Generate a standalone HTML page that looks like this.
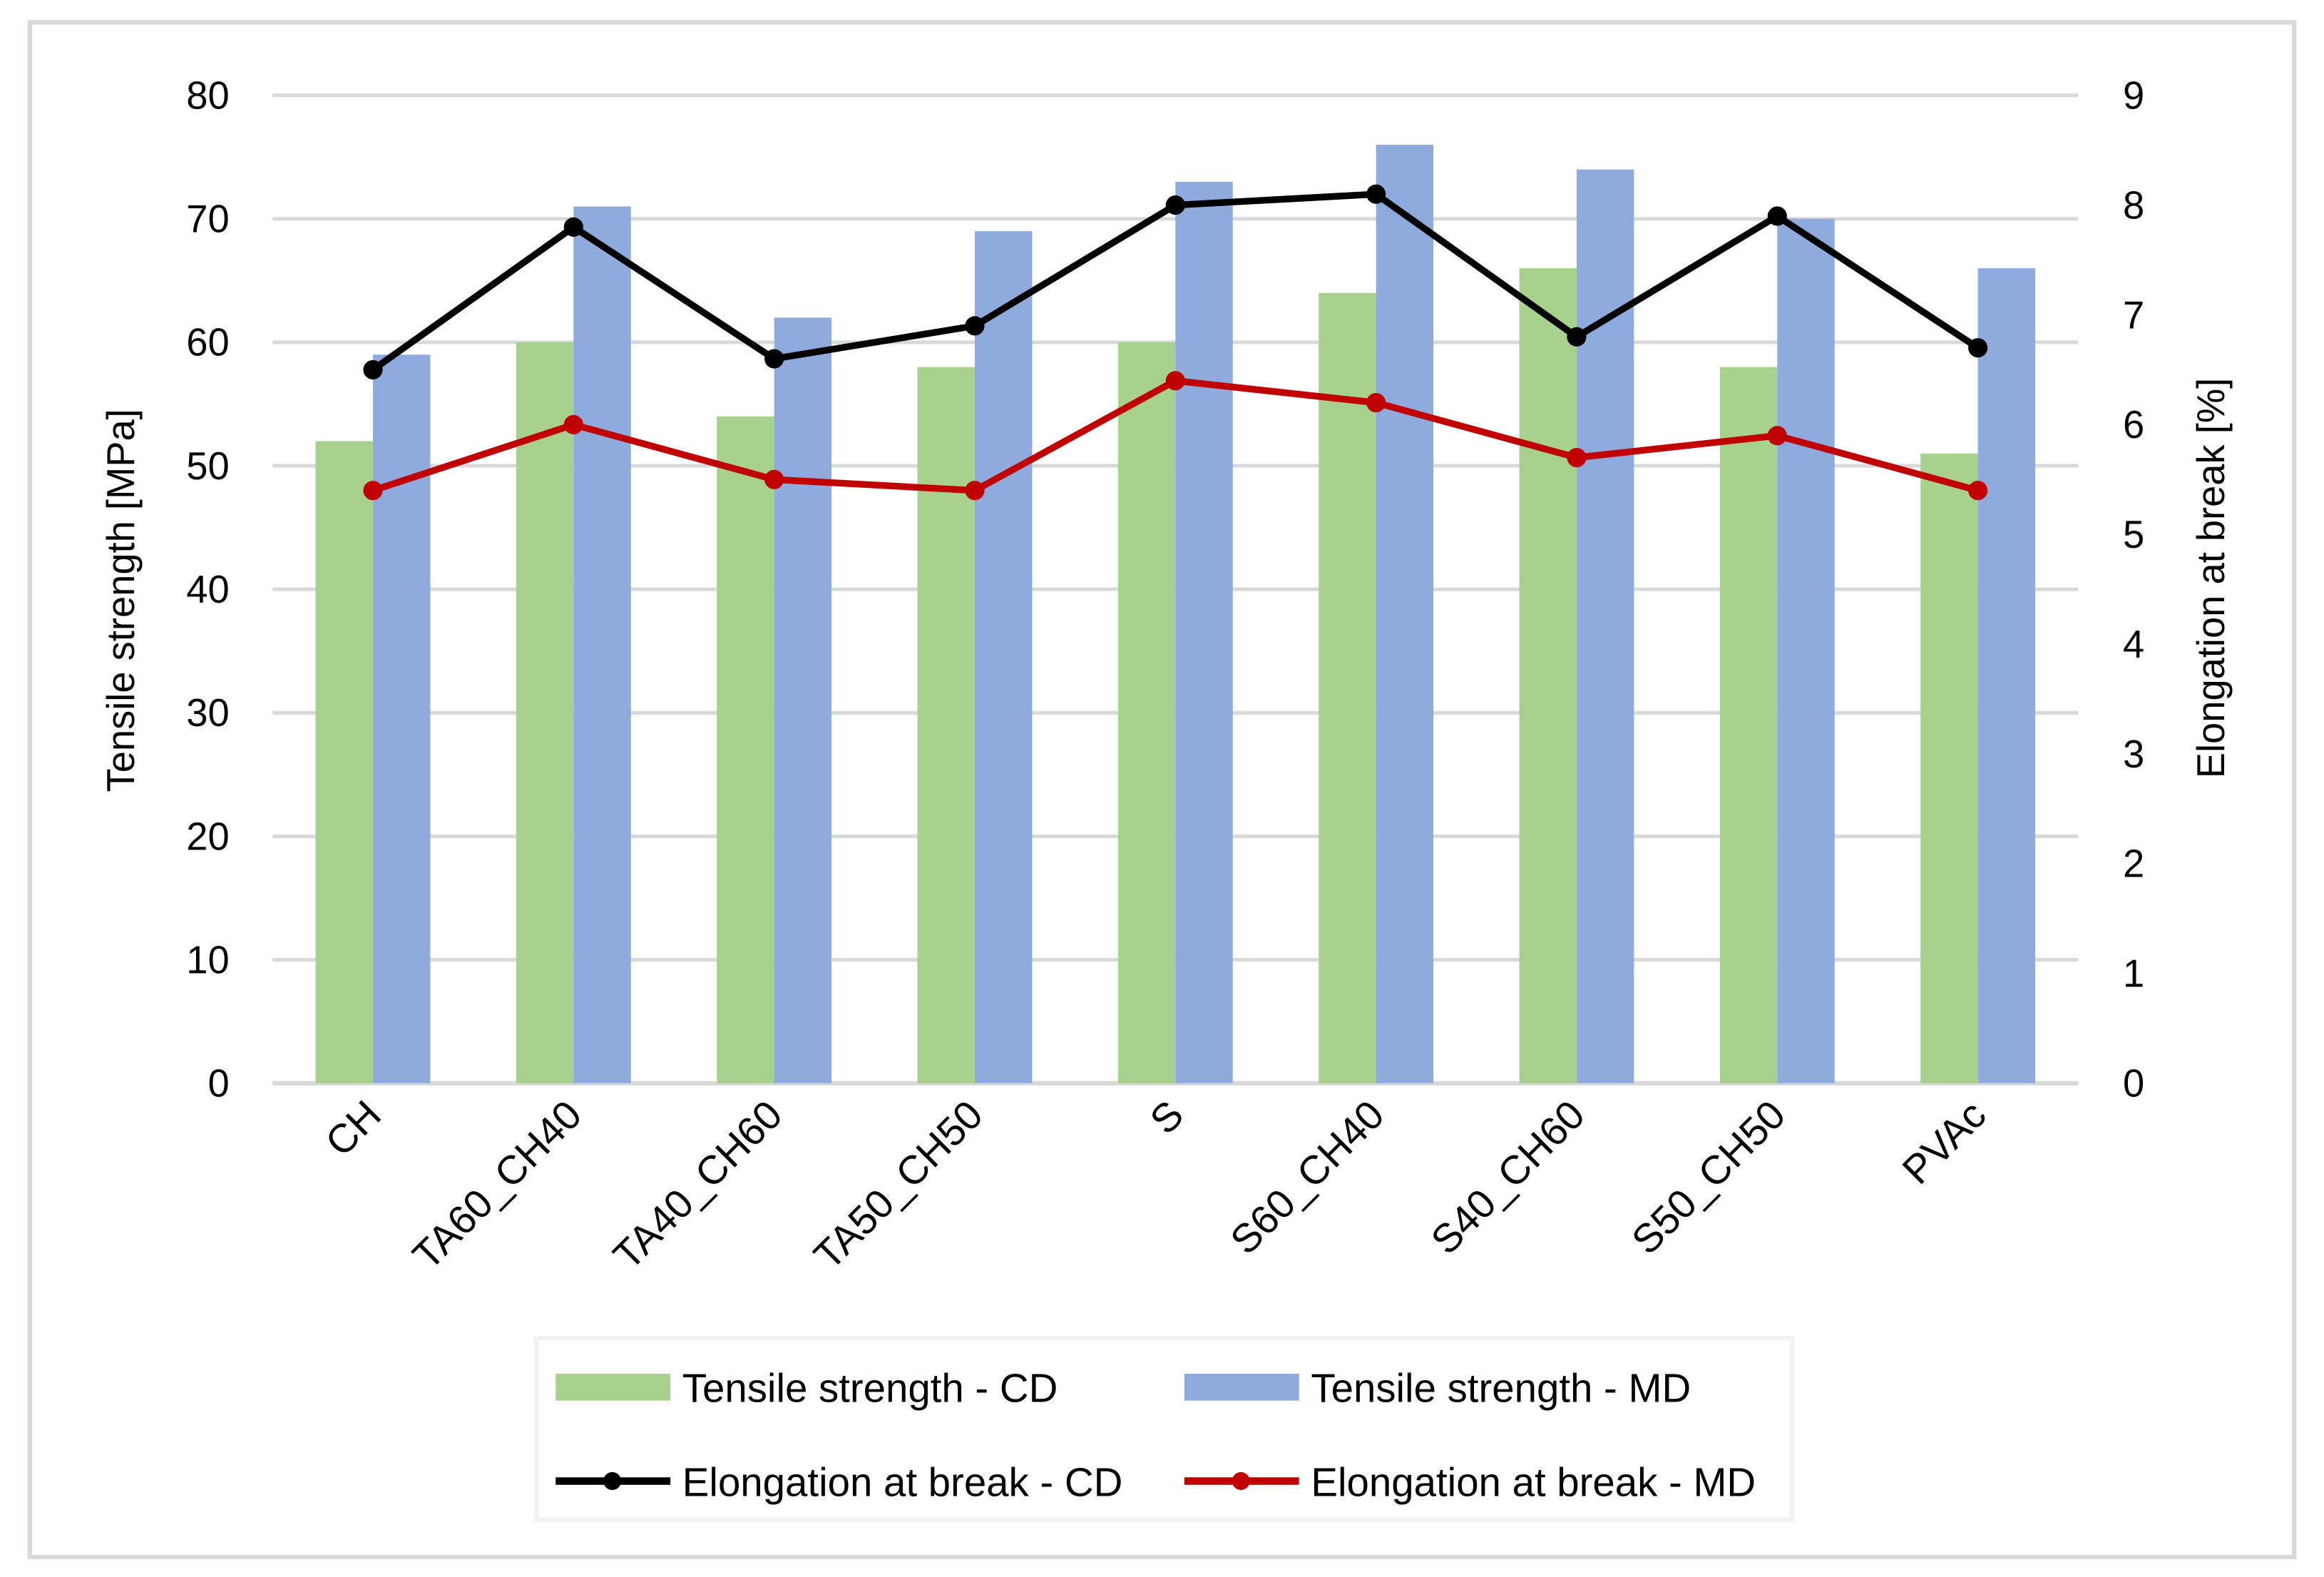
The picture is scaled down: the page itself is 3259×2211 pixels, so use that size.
<!DOCTYPE html>
<html><head><meta charset="utf-8"><style>
html,body{margin:0;padding:0;background:#fff}
svg{display:block}
text{font-family:"Liberation Sans",sans-serif;fill:#000}
</style></head><body>
<svg id="chart" width="3259" height="2211" viewBox="0 0 1560 1058.4" preserveAspectRatio="none" xmlns="http://www.w3.org/2000/svg">
<rect x="20" y="15" width="1520" height="1030" fill="#fff" stroke="#d9d9d9" stroke-width="3"/>
<g id="grid"></g><g id="bars"></g><g id="lines"></g><g id="axes"></g>
<text transform="translate(90,403) rotate(-90)" text-anchor="middle" font-size="26">Tensile strength [MPa]</text>
<text transform="translate(1493,388) rotate(-90)" text-anchor="middle" font-size="26">Elongation at break [%]</text>
<g>
<rect x="360" y="898" width="843" height="122" fill="#fff" stroke="#f2f2f2" stroke-width="3"/>
<rect x="373" y="922" width="77" height="18" fill="#a9d18e"/>
<text x="458" y="941" font-size="27">Tensile strength - CD</text>
<rect x="795" y="922" width="77" height="18" fill="#8faadc"/>
<text x="880" y="941" font-size="27">Tensile strength - MD</text>
<line x1="373" y1="994" x2="450" y2="994" stroke="#000" stroke-width="5"/><circle cx="411" cy="994" r="6" fill="#000"/>
<text x="458" y="1004" font-size="27">Elongation at break - CD</text>
<line x1="795" y1="994" x2="872" y2="994" stroke="#c00000" stroke-width="5"/><circle cx="833" cy="994" r="6" fill="#c00000"/>
<text x="880" y="1004" font-size="27">Elongation at break - MD</text>
</g>
</svg>
<script>
const categories=["CH","TA60_CH40","TA40_CH60","TA50_CH50","S","S60_CH40","S40_CH60","S50_CH50","PVAc"];
const tsCD=[52,60,54,58,60,64,66,58,51];
const tsMD=[59,71,62,69,73,76,74,70,66];
const elCD=[6.5,7.8,6.6,6.9,8.0,8.1,6.8,7.9,6.7];
const elMD=[5.4,6.0,5.5,5.4,6.4,6.2,5.7,5.9,5.4];
const leftTicks=[0,10,20,30,40,50,60,70,80];
const rightTicks=[0,1,2,3,4,5,6,7,8,9];
const NS="http://www.w3.org/2000/svg";
const X0=183,X1=1395,Y0=727,Y1=64;
const band=(X1-X0)/categories.length;
const yL=v=>Y0-(v/80)*(Y0-Y1);
const yR=v=>Y0-(v/9)*(Y0-Y1);
const xc=i=>X0+band*(i+0.5);
function mk(tag,attrs,parent){const e=document.createElementNS(NS,tag);for(const k in attrs)e.setAttribute(k,attrs[k]);document.getElementById(parent).appendChild(e);return e;}
leftTicks.forEach(t=>{
  const l=mk('line',{x1:X0,x2:X1,y1:yL(t),y2:yL(t),stroke:'#d9d9d9','stroke-width':t===0?3:2.5},'grid');
  
  
  const tx=mk('text',{x:154,y:yL(t)+9,'text-anchor':'end','font-size':26},'axes');tx.textContent=t;
  
  
});
rightTicks.forEach(t=>{
  const tx=mk('text',{x:1425,y:yR(t)+9,'text-anchor':'start','font-size':26},'axes');tx.textContent=t;
  
  
});
const bw=38.5;
categories.forEach((c,i)=>{
  const g=mk('rect',{x:xc(i)-bw,y:yL(tsCD[i]),width:bw,height:Y0-yL(tsCD[i]),fill:'#a9d18e'},'bars');
  
  
  const b=mk('rect',{x:xc(i),y:yL(tsMD[i]),width:bw,height:Y0-yL(tsMD[i]),fill:'#8faadc'},'bars');
  
  
  const tx=mk('text',{transform:`translate(${xc(i)+7},${750}) rotate(-45)`,'text-anchor':'end','font-size':27},'axes');tx.textContent=c;
  
  
});
[[elCD,'#000','line-el-cd'],[elMD,'#c00000','line-el-md']].forEach(([d,col,nm])=>{
  const p=mk('polyline',{points:d.map((v,i)=>xc(i)+','+yR(v)).join(' '),fill:'none',stroke:col,'stroke-width':4.5,'stroke-linejoin':'round'},'lines');
  
  
  d.forEach((v,i)=>{const c=mk('circle',{cx:xc(i),cy:yR(v),r:6.5,fill:col},'lines');
    
    });
});
</script>
</body></html>
